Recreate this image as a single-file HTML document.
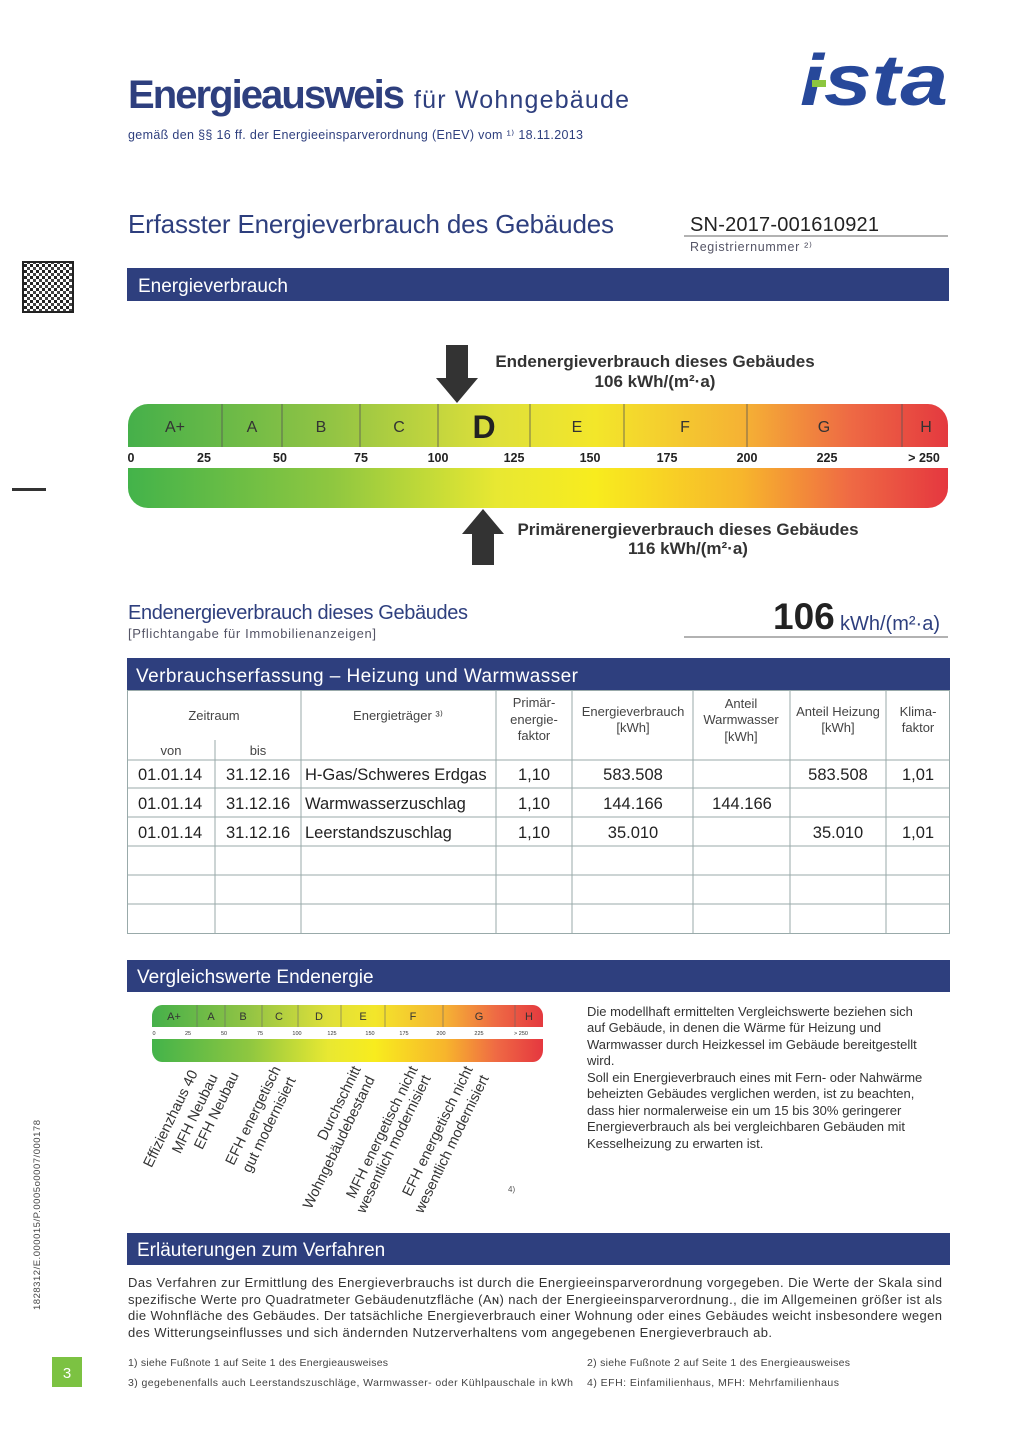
<!DOCTYPE html>
<html><head><meta charset="utf-8"><style>
html,body{margin:0;padding:0;background:#fff}
svg{display:block}
text{font-family:"Liberation Sans",sans-serif}
.b{fill:#2e3f7e}
.w{fill:#fff}
.n{font-family:"Liberation Sans Narrow","Liberation Sans",sans-serif}
</style></head><body>
<svg width="1017" height="1440" viewBox="0 0 1017 1440" xmlns="http://www.w3.org/2000/svg">
<defs>
<linearGradient id="g1" x1="0" x2="1" y1="0" y2="0">
<stop offset="0" stop-color="#45b04a"/><stop offset="0.25" stop-color="#93c444"/>
<stop offset="0.45" stop-color="#dfe03a"/><stop offset="0.57" stop-color="#f3e62a"/>
<stop offset="0.75" stop-color="#f5b234"/><stop offset="0.88" stop-color="#ee6a44"/>
<stop offset="1" stop-color="#e4393f"/></linearGradient>
<linearGradient id="g2" x1="0" x2="1" y1="0" y2="0">
<stop offset="0" stop-color="#43b34a"/><stop offset="0.25" stop-color="#8fc740"/>
<stop offset="0.45" stop-color="#e8e832"/><stop offset="0.57" stop-color="#f8ec1e"/>
<stop offset="0.75" stop-color="#f7b52c"/><stop offset="0.88" stop-color="#ef6a44"/>
<stop offset="1" stop-color="#e5373f"/></linearGradient>
<pattern id="qr" width="6" height="6" patternUnits="userSpaceOnUse">
<rect width="6" height="6" fill="#fff"/><rect width="3" height="3" fill="#222"/><rect x="3" y="3" width="3" height="3" fill="#444"/>
</pattern>
</defs>

<!-- header -->
<text x="128" y="108" font-size="40" font-weight="bold" class="b n" textLength="277">Energieausweis</text>
<text x="414" y="108" font-size="25" class="b n" textLength="215">für Wohngebäude</text>
<text x="128" y="139" font-size="12.5" class="b n" textLength="455">gemäß den §§ 16 ff. der Energieeinsparverordnung (EnEV) vom ¹⁾ 18.11.2013</text>
<text x="800" y="105" font-size="72" font-weight="bold" font-style="italic" fill="#27489a" textLength="148" lengthAdjust="spacingAndGlyphs">ista</text>
<rect x="812" y="80" width="14" height="7" fill="#8cc63f"/>

<text x="128" y="233" font-size="26" class="b n" textLength="486">Erfasster Energieverbrauch des Gebäudes</text>
<text x="690" y="231" font-size="20" fill="#222" textLength="189">SN-2017-001610921</text>
<line x1="684" y1="236" x2="948" y2="236" stroke="#999" stroke-width="1.5"/>
<text x="690" y="251" font-size="12.5" fill="#556" textLength="122">Registriernummer ²⁾</text>

<!-- QR -->
<rect x="23" y="262" width="50" height="50" fill="url(#qr)" stroke="#222" stroke-width="2"/>
<rect x="12" y="488" width="34" height="3" fill="#333"/>

<rect x="127" y="268" width="822" height="33" class="b"/>
<text x="138" y="292" font-size="19" class="w n">Energieverbrauch</text>

<!-- scale -->
<path d="M148 404 H928 a20 21 0 0 1 20 21 V447 H128 V425 a20 21 0 0 1 20 -21Z" fill="url(#g1)"/>
<path d="M128 468 H948 V488 a20 20 0 0 1 -20 20 H148 a20 20 0 0 1 -20 -20Z" fill="url(#g2)"/>
<g stroke="#555" stroke-width="0.8">
<line x1="222" y1="404" x2="222" y2="447"/><line x1="282" y1="404" x2="282" y2="447"/>
<line x1="360" y1="404" x2="360" y2="447"/><line x1="438" y1="404" x2="438" y2="447"/>
<line x1="530" y1="404" x2="530" y2="447"/><line x1="624" y1="404" x2="624" y2="447"/>
<line x1="747" y1="404" x2="747" y2="447"/><line x1="902" y1="404" x2="902" y2="447"/>
</g>
<g font-size="16" fill="#333" text-anchor="middle">
<text x="175" y="432">A+</text><text x="252" y="432">A</text><text x="321" y="432">B</text>
<text x="399" y="432">C</text><text x="577" y="432">E</text><text x="685" y="432">F</text>
<text x="824" y="432">G</text><text x="926" y="432">H</text>
<text x="484" y="438" font-size="32" font-weight="bold" fill="#222">D</text>
</g>
<g font-size="12.5" font-weight="bold" fill="#222" text-anchor="middle">
<text x="131" y="462">0</text><text x="204" y="462">25</text><text x="280" y="462">50</text>
<text x="361" y="462">75</text><text x="438" y="462">100</text><text x="514" y="462">125</text>
<text x="590" y="462">150</text><text x="667" y="462">175</text><text x="747" y="462">200</text>
<text x="827" y="462">225</text><text x="924" y="462">&gt; 250</text>
</g>
<path d="M446 345 H468 V378 H478 L457 403 L436 378 H446Z" fill="#333"/>
<path d="M472 565 H494 V534 H504 L483 509 L462 534 H472Z" fill="#333"/>
<g font-size="17" font-weight="bold" fill="#333" text-anchor="middle">
<text x="655" y="367">Endenergieverbrauch dieses Gebäudes</text>
<text x="655" y="387">106 kWh/(m²·a)</text>
<text x="688" y="535">Primärenergieverbrauch dieses Gebäudes</text>
<text x="688" y="554">116 kWh/(m²·a)</text>
</g>

<text x="128" y="619" font-size="20" class="b n" textLength="340">Endenergieverbrauch dieses Gebäudes</text>
<text x="128" y="638" font-size="13" fill="#556" textLength="248">[Pflichtangabe für Immobilienanzeigen]</text>
<text x="773" y="629" font-size="37" font-weight="bold" fill="#222">106</text>
<text x="840" y="630" font-size="20" class="b">kWh/(m²·a)</text>
<line x1="684" y1="637" x2="948" y2="637" stroke="#999" stroke-width="1.5"/>

<rect x="127" y="658" width="823" height="33" class="b"/>
<text x="136" y="682" font-size="19" class="w n" textLength="442">Verbrauchserfassung – Heizung und Warmwasser</text>

<!-- table -->
<g stroke="#9aa" stroke-width="1" fill="none">
<rect x="127.5" y="690.5" width="822" height="243"/>
<line x1="301" y1="690" x2="301" y2="934"/><line x1="496" y1="690" x2="496" y2="934"/>
<line x1="572" y1="690" x2="572" y2="934"/><line x1="693" y1="690" x2="693" y2="934"/>
<line x1="790" y1="690" x2="790" y2="934"/><line x1="886" y1="690" x2="886" y2="934"/>
<line x1="215" y1="740" x2="215" y2="934"/>
<line x1="127" y1="760" x2="950" y2="760"/><line x1="127" y1="788" x2="950" y2="788"/>
<line x1="127" y1="817" x2="950" y2="817"/><line x1="127" y1="846" x2="950" y2="846"/>
<line x1="127" y1="875" x2="950" y2="875"/><line x1="127" y1="904" x2="950" y2="904"/>
</g>
<g font-size="13" fill="#444" text-anchor="middle" class="n">
<text x="214" y="720">Zeitraum</text><text x="171" y="755">von</text><text x="258" y="755">bis</text>
<text x="398" y="720">Energieträger ³⁾</text>
<text x="534" y="707">Primär-</text><text x="534" y="724">energie-</text><text x="534" y="740">faktor</text>
<text x="633" y="716">Energieverbrauch</text><text x="633" y="732">[kWh]</text>
<text x="741" y="708">Anteil</text><text x="741" y="724">Warmwasser</text><text x="741" y="741">[kWh]</text>
<text x="838" y="716">Anteil Heizung</text><text x="838" y="732">[kWh]</text>
<text x="918" y="716">Klima-</text><text x="918" y="732">faktor</text>
</g>
<g font-size="16.5" fill="#222">
<text x="138" y="780">01.01.14</text><text x="226" y="780">31.12.16</text><text x="305" y="780">H-Gas/Schweres Erdgas</text>
<text x="138" y="809">01.01.14</text><text x="226" y="809">31.12.16</text><text x="305" y="809">Warmwasserzuschlag</text>
<text x="138" y="838">01.01.14</text><text x="226" y="838">31.12.16</text><text x="305" y="838">Leerstandszuschlag</text>
<g text-anchor="middle">
<text x="534" y="780">1,10</text><text x="633" y="780">583.508</text><text x="838" y="780">583.508</text><text x="918" y="780">1,01</text>
<text x="534" y="809">1,10</text><text x="633" y="809">144.166</text><text x="742" y="809">144.166</text>
<text x="534" y="838">1,10</text><text x="633" y="838">35.010</text><text x="838" y="838">35.010</text><text x="918" y="838">1,01</text>
</g></g>

<rect x="127" y="960" width="823" height="32" class="b"/>
<text x="137" y="983" font-size="19" class="w n">Vergleichswerte Endenergie</text>

<!-- small scale -->
<path d="M162 1005 H533 a10 11 0 0 1 10 11 V1027 H152 V1016 a10 11 0 0 1 10 -11Z" fill="url(#g1)"/>
<path d="M152 1039 H543 V1050 a10 12 0 0 1 -10 12 H162 a10 12 0 0 1 -10 -12Z" fill="url(#g2)"/>
<g stroke="#666" stroke-width="0.6">
<line x1="197" y1="1005" x2="197" y2="1027"/><line x1="225" y1="1005" x2="225" y2="1027"/>
<line x1="262" y1="1005" x2="262" y2="1027"/><line x1="298" y1="1005" x2="298" y2="1027"/>
<line x1="341" y1="1005" x2="341" y2="1027"/><line x1="385" y1="1005" x2="385" y2="1027"/>
<line x1="443" y1="1005" x2="443" y2="1027"/><line x1="515" y1="1005" x2="515" y2="1027"/>
</g>
<g font-size="11" fill="#333" text-anchor="middle">
<text x="174" y="1020">A+</text><text x="211" y="1020">A</text><text x="243" y="1020">B</text>
<text x="279" y="1020">C</text><text x="319" y="1020">D</text><text x="363" y="1020">E</text>
<text x="413" y="1020">F</text><text x="479" y="1020">G</text><text x="529" y="1020">H</text>
</g>
<g font-size="5.5" fill="#333" text-anchor="middle">
<text x="154" y="1035">0</text><text x="188" y="1035">25</text><text x="224" y="1035">50</text>
<text x="260" y="1035">75</text><text x="297" y="1035">100</text><text x="332" y="1035">125</text>
<text x="370" y="1035">150</text><text x="404" y="1035">175</text><text x="441" y="1035">200</text>
<text x="479" y="1035">225</text><text x="521" y="1035">&gt; 250</text>
</g>
<g font-size="14.5" fill="#333" text-anchor="end" class="n">
<text transform="translate(198,1073) rotate(-64)">Effizienzhaus 40</text>
<text transform="translate(218,1077) rotate(-64)">MFH Neubau</text>
<text transform="translate(239,1075) rotate(-64)">EFH Neubau</text>
<text transform="translate(281,1069) rotate(-64)">EFH energetisch</text>
<text transform="translate(296,1080) rotate(-64)">gut modernisiert</text>
<text transform="translate(361,1069) rotate(-64)">Durchschnitt</text>
<text transform="translate(375,1079) rotate(-64)">Wohngebäudebestand</text>
<text transform="translate(418,1069) rotate(-64)">MFH energetisch nicht</text>
<text transform="translate(431,1078) rotate(-64)">wesentlich modernisiert</text>
<text transform="translate(473,1069) rotate(-64)">EFH energetisch nicht</text>
<text transform="translate(489,1078) rotate(-64)">wesentlich modernisiert</text>
</g>
<text x="508" y="1192" font-size="8" fill="#555">4)</text>

<g font-size="13" fill="#333" class="n">
<text x="587" y="1016">Die modellhaft ermittelten Vergleichswerte beziehen sich</text>
<text x="587" y="1032">auf Gebäude, in denen die Wärme für Heizung und</text>
<text x="587" y="1049">Warmwasser durch Heizkessel im Gebäude bereitgestellt</text>
<text x="587" y="1065">wird.</text>
<text x="587" y="1082">Soll ein Energieverbrauch eines mit Fern- oder Nahwärme</text>
<text x="587" y="1098">beheizten Gebäudes verglichen werden, ist zu beachten,</text>
<text x="587" y="1115">dass hier normalerweise ein um 15 bis 30% geringerer</text>
<text x="587" y="1131">Energieverbrauch als bei vergleichbaren Gebäuden mit</text>
<text x="587" y="1148">Kesselheizung zu erwarten ist.</text>
</g>

<rect x="127" y="1233" width="823" height="32" class="b"/>
<text x="137" y="1256" font-size="19" class="w n">Erläuterungen zum Verfahren</text>
<g font-size="13" fill="#333" class="n">
<text x="128" y="1287" textLength="814">Das Verfahren zur Ermittlung des Energieverbrauchs ist durch die Energieeinsparverordnung vorgegeben. Die Werte der Skala sind</text>
<text x="128" y="1304" textLength="814">spezifische Werte pro Quadratmeter Gebäudenutzfläche (Aɴ) nach der Energieeinsparverordnung., die im Allgemeinen größer ist als</text>
<text x="128" y="1320" textLength="814">die Wohnfläche des Gebäudes. Der tatsächliche Energieverbrauch einer Wohnung oder eines Gebäudes weicht insbesondere wegen</text>
<text x="128" y="1337" textLength="644">des Witterungseinflusses und sich ändernden Nutzerverhaltens vom angegebenen Energieverbrauch ab.</text>
</g>
<g font-size="10.5" fill="#444" class="n">
<text x="128" y="1366" textLength="260">1) siehe Fußnote 1 auf Seite 1 des Energieausweises</text>
<text x="128" y="1386" textLength="445">3) gegebenenfalls auch Leerstandszuschläge, Warmwasser- oder Kühlpauschale in kWh</text>
<text x="587" y="1366" textLength="263">2) siehe Fußnote 2 auf Seite 1 des Energieausweises</text>
<text x="587" y="1386" textLength="252">4) EFH: Einfamilienhaus, MFH: Mehrfamilienhaus</text>
</g>
<rect x="52" y="1357" width="30" height="30" fill="#7cc242"/>
<text x="67" y="1378" font-size="15" fill="#fff" text-anchor="middle">3</text>
<text transform="translate(40,1310) rotate(-90)" font-size="9.5" fill="#444" textLength="190">1828312/E.000015/P.0005o0007/000178</text>
</svg>
</body></html>
